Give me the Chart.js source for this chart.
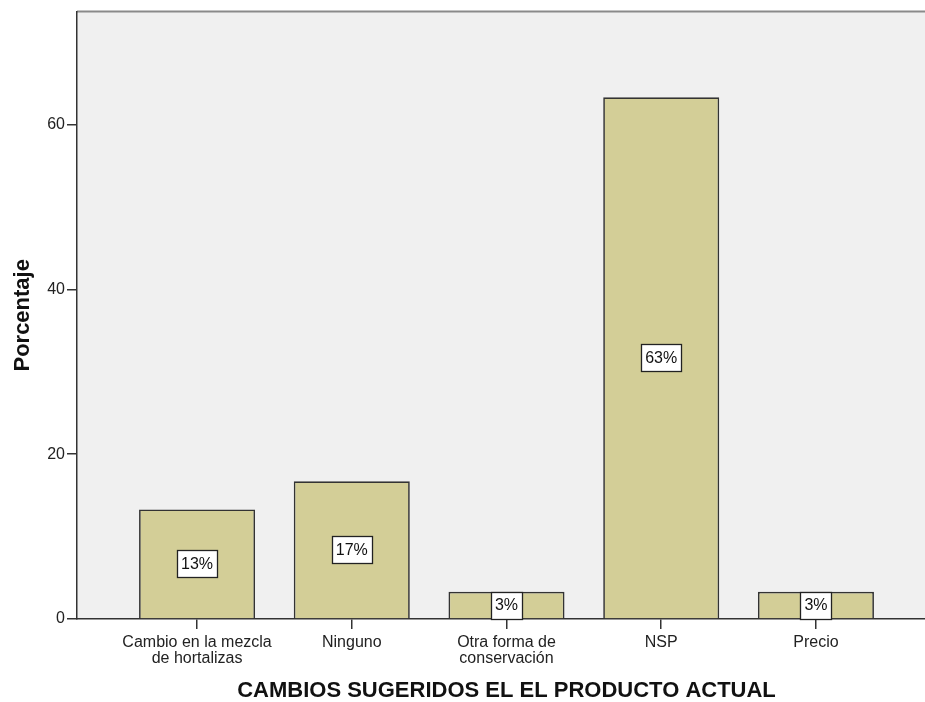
<!DOCTYPE html>
<html>
<head>
<meta charset="utf-8">
<script src="https://cdn.jsdelivr.net/npm/chart.js@4.4.1/dist/chart.umd.min.js"></script>
<style>
  html, body { margin: 0; padding: 0; background: #ffffff; overflow: hidden; }
  #wrap { position: relative; width: 937px; height: 702px; }
</style>
</head>
<body>
<div id="wrap"><canvas id="c" width="937" height="702"></canvas></div>
<script>
// ---- data ----
const categories = [
  ["Cambio en la mezcla", "de hortalizas"],
  ["Ninguno"],
  ["Otra forma de", "conservación"],
  ["NSP"],
  ["Precio"]
];
const percentages = [13.3, 16.7, 3.3, 63.3, 3.3];
const yTicks = [0, 20, 40, 60];
const xTitle = "CAMBIOS SUGERIDOS EL EL PRODUCTO ACTUAL";
const yTitle = "Porcentaje";

const points = percentages.map((v, i) => ({ x: i, y: v }));

const FONT = "'Liberation Sans', Arial, sans-serif";

const plotBg = {
  id: 'plotBg',
  beforeDraw(chart) {
    const { ctx, chartArea: a } = chart;
    ctx.save();
    ctx.fillStyle = '#f0f0f0';
    ctx.fillRect(a.left, a.top, a.right - a.left, a.bottom - a.top);
    ctx.strokeStyle = '#8a8a8a';
    ctx.lineWidth = 2;
    ctx.beginPath();
    ctx.moveTo(a.left, a.top);
    ctx.lineTo(a.right, a.top);
    ctx.stroke();
    ctx.restore();
  }
};

const barLabels = {
  id: 'barLabels',
  afterDatasetsDraw(chart) {
    const { ctx } = chart;
    const meta = chart.getDatasetMeta(0);
    ctx.save();
    ctx.font = '16px ' + FONT;
    ctx.textAlign = 'center';
    ctx.textBaseline = 'middle';
    meta.data.forEach((bar, i) => {
      const txt = Math.round(percentages[i]) + '%';
      const cx = bar.x;
      const cy = (bar.y + bar.base) / 2;
      const w = Math.round(ctx.measureText(txt).width + 8);
      const h = 27;
      const x0 = Math.round(cx - w / 2) + 0.5;
      const y0 = Math.round(cy - h / 2) + 0.5;
      ctx.fillStyle = '#ffffff';
      ctx.fillRect(x0, y0, w, h);
      ctx.strokeStyle = '#222222';
      ctx.lineWidth = 1.3;
      ctx.strokeRect(x0, y0, w, h);
      ctx.fillStyle = '#111111';
      ctx.fillText(txt, cx, cy + 1);
    });
    ctx.restore();
  }
};

new Chart(document.getElementById('c'), {
  type: 'bar',
  data: {
    datasets: [{
      data: points,
      backgroundColor: '#d3ce97',
      borderColor: '#333333',
      borderWidth: 1.7,
      barPercentage: 0.75,
      categoryPercentage: 1.0
    }]
  },
  options: {
    responsive: false,
    animation: false,
    devicePixelRatio: 1,
    layout: { padding: { top: 11, right: 1, left: 0, bottom: 0 } },
    plugins: {
      legend: { display: false },
      tooltip: { enabled: false }
    },
    scales: {
      x: {
        type: 'linear',
        offset: false,
        min: -0.776,
        max: 4.776,
        afterBuildTicks(scale) {
          scale.ticks = categories.map((c, i) => ({ value: i }));
        },
        afterFit(scale) { scale.height = 83; },
        grid: {
          offset: false,
          drawOnChartArea: false,
          drawTicks: true,
          tickLength: 10,
          color: '#333333',
          lineWidth: 1.5
        },
        border: { display: true, color: '#333333', width: 1.5 },
        ticks: {
          autoSkip: false,
          maxRotation: 0,
          padding: 5,
          color: '#222222',
          font: { family: FONT, size: 16, lineHeight: 1.02 },
          callback: (v) => categories[v] || ''
        },
        title: {
          display: true,
          text: xTitle,
          color: '#111111',
          font: { family: FONT, size: 22, weight: 'bold', lineHeight: 1.05 },
          padding: { top: 0, bottom: 0 }
        }
      },
      y: {
        min: 0,
        max: 73.7,
        afterBuildTicks(scale) {
          scale.ticks = yTicks.map(v => ({ value: v }));
        },
        afterFit(scale) { scale.width = 77; },
        grid: {
          drawOnChartArea: false,
          drawTicks: true,
          tickLength: 10,
          color: '#333333',
          lineWidth: 1.5
        },
        border: { display: true, color: '#333333', width: 1.5 },
        ticks: {
          padding: 2,
          color: '#222222',
          font: { family: FONT, size: 16 }
        },
        title: {
          display: true,
          text: yTitle,
          color: '#111111',
          font: { family: FONT, size: 22, weight: 'bold', lineHeight: 1.2 },
          padding: { top: 10, bottom: 0 }
        }
      }
    }
  },
  plugins: [plotBg, barLabels]
});
</script>
</body>
</html>
